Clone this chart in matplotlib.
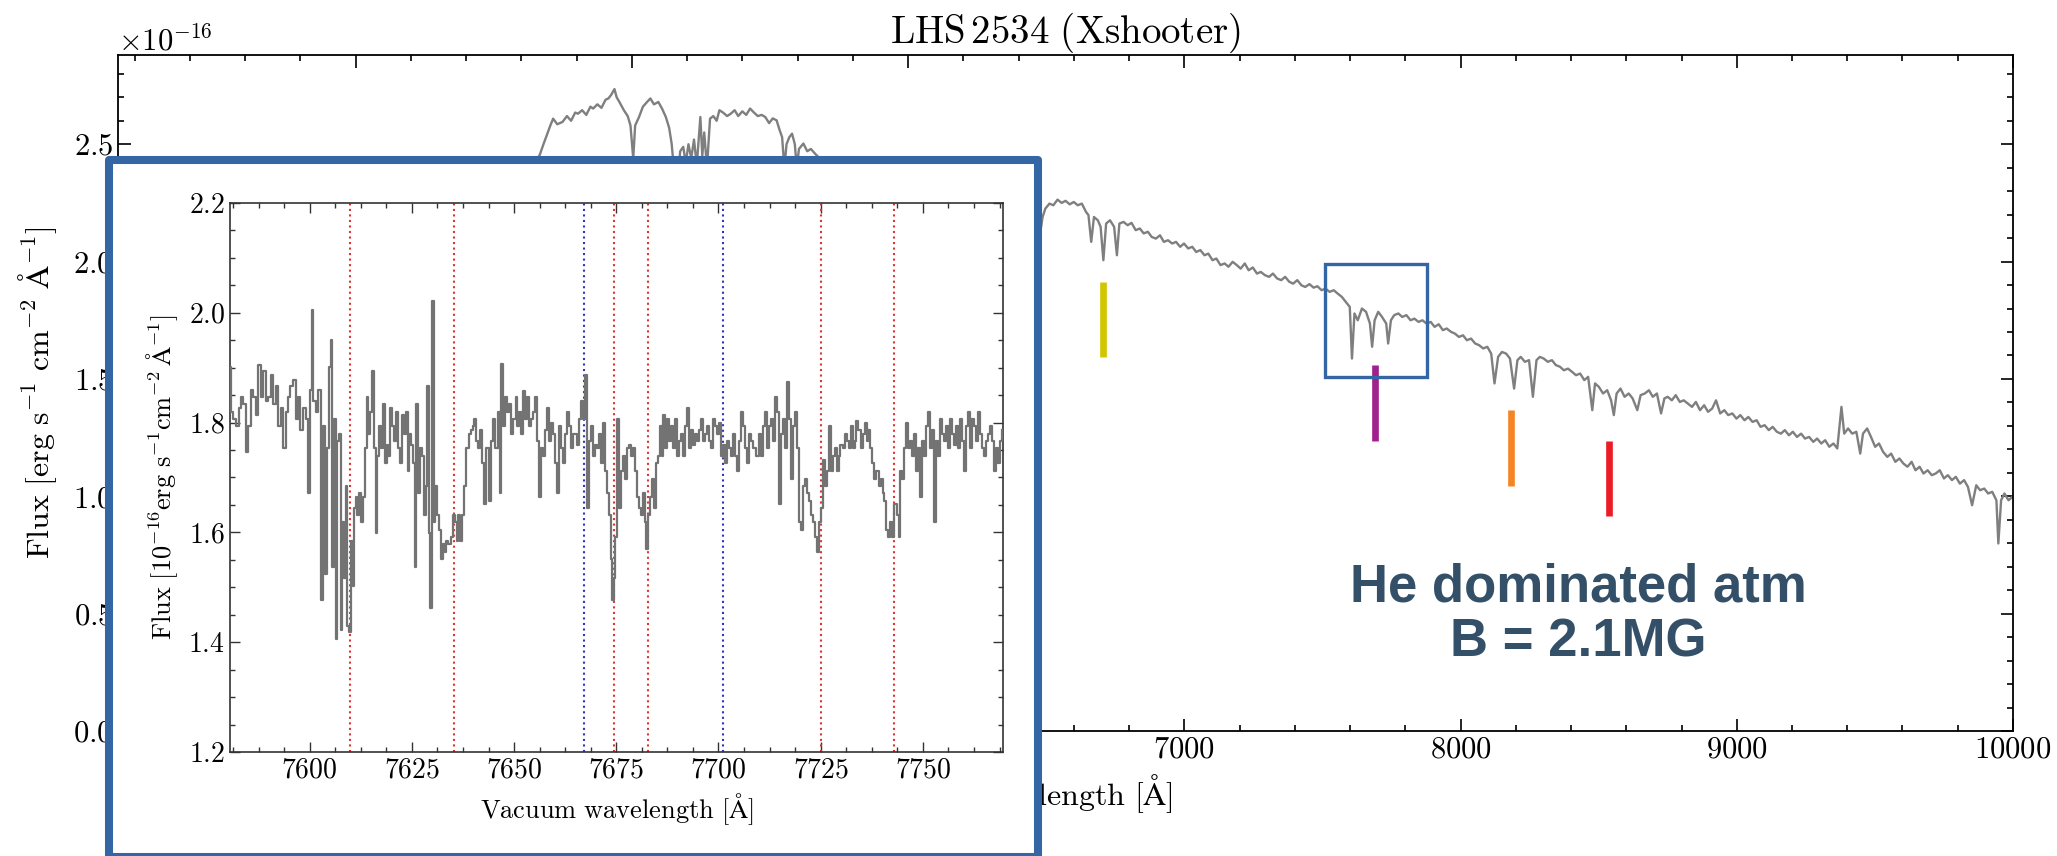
import matplotlib
matplotlib.use('Agg')
import matplotlib.pyplot as plt
from matplotlib.patches import Rectangle
from matplotlib.ticker import MultipleLocator

plt.rcParams['font.family'] = 'serif'
plt.rcParams['font.serif'] = ['cmr10']
plt.rcParams['mathtext.fontset'] = 'cm'
plt.rcParams['axes.formatter.use_mathtext'] = True

# ---- full spectrum (flux in 1e-16 erg/s/cm2/A) ----
wave = [3140, 3250, 3400, 3550, 3700, 3850, 3934, 3968, 4050, 4200, 4350, 4500, 4600, 4640,
        4666, 4680, 4694, 4705, 4715, 4730, 4749, 4765, 4780, 4795, 4805, 4820, 4835, 4850,
        4860, 4875, 4890, 4905, 4915, 4925, 4937, 4945, 4955, 4971, 4985, 4995, 5005, 5012,
        5026, 5040, 5055, 5067, 5080, 5096, 5110, 5123, 5135, 5144, 5152, 5160, 5168, 5175,
        5186, 5195, 5205, 5215, 5225, 5235, 5248, 5255, 5262, 5272, 5283, 5295, 5307, 5317,
        5330, 5345, 5358, 5372, 5385, 5400, 5414, 5428, 5442, 5456, 5470, 5483, 5497, 5510,
        5524, 5535, 5544, 5552, 5560, 5570, 5580, 5590, 5597, 5605, 5621, 5635, 5648, 5663,
        5680, 5695, 5720, 5780, 5850, 5890, 5900, 5950, 6050, 6150, 6250, 6350, 6420, 6460,
        6478, 6487, 6497, 6512, 6526, 6541, 6556, 6570, 6585, 6600, 6614, 6629, 6644, 6653,
        6663, 6673, 6687, 6697, 6707, 6717, 6731, 6746, 6756, 6765, 6780, 6795, 6809, 6824,
        6839, 6853, 6868, 6882, 6897, 6912, 6926, 6941, 6956, 6970, 6985, 6999, 7014, 7029,
        7043, 7058, 7073, 7087, 7102, 7116, 7131, 7146, 7160, 7175, 7190, 7204, 7219, 7233,
        7248, 7263, 7277, 7292, 7307, 7321, 7336, 7351, 7365, 7380, 7394, 7409, 7424, 7438,
        7453, 7468, 7482, 7497, 7511, 7526, 7541, 7555, 7570, 7585, 7599, 7607, 7616, 7628,
        7643, 7658, 7672, 7680, 7689, 7702, 7716, 7731, 7738, 7748, 7760, 7775, 7789, 7804,
        7819, 7833, 7848, 7862, 7877, 7892, 7906, 7921, 7936, 7950, 7965, 7980, 7994, 8009,
        8023, 8038, 8053, 8067, 8082, 8097, 8111, 8123, 8136, 8150, 8165, 8179, 8194, 8206,
        8218, 8233, 8248, 8262, 8275, 8287, 8301, 8316, 8331, 8345, 8360, 8374, 8389, 8404,
        8418, 8433, 8448, 8462, 8477, 8487, 8501, 8516, 8531, 8545, 8555, 8565, 8579, 8594,
        8609, 8623, 8640, 8652, 8667, 8682, 8696, 8711, 8726, 8738, 8750, 8765, 8779, 8794,
        8808, 8823, 8838, 8852, 8867, 8882, 8896, 8911, 8925, 8940, 8955, 8969, 8984, 8999,
        9013, 9028, 9042, 9057, 9072, 9086, 9101, 9116, 9130, 9145, 9160, 9174, 9189, 9203,
        9218, 9233, 9247, 9262, 9277, 9291, 9306, 9320, 9335, 9350, 9364, 9379, 9389, 9403,
        9418, 9433, 9447, 9457, 9472, 9486, 9501, 9515, 9530, 9545, 9559, 9574, 9589, 9603,
        9618, 9633, 9647, 9662, 9676, 9691, 9706, 9720, 9735, 9750, 9764, 9779, 9793, 9808,
        9823, 9837, 9852, 9867, 9881, 9896, 9910, 9925, 9940, 9947, 9957, 9969, 9984, 9998]
flux = [0.35, 0.55, 0.80, 1.00, 1.20, 1.30, 0.90, 0.95, 1.55, 1.85, 2.05, 2.22, 2.36, 2.41,
        2.453, 2.50, 2.545, 2.58, 2.609, 2.585, 2.595, 2.62, 2.60, 2.635, 2.63, 2.645, 2.625, 2.66,
        2.652, 2.67, 2.655, 2.69, 2.695, 2.71, 2.735, 2.70, 2.68, 2.645, 2.62, 2.58, 2.44, 2.58,
        2.616, 2.66, 2.68, 2.695, 2.67, 2.68, 2.65, 2.616, 2.57, 2.503, 2.40, 2.44, 2.38, 2.47,
        2.489, 2.42, 2.50, 2.44, 2.52, 2.41, 2.616, 2.45, 2.55, 2.40, 2.609, 2.62, 2.60, 2.645,
        2.635, 2.62, 2.63, 2.645, 2.62, 2.64, 2.625, 2.652, 2.635, 2.62, 2.625, 2.616, 2.59, 2.61,
        2.602, 2.56, 2.53, 2.40, 2.50, 2.53, 2.545, 2.50, 2.40, 2.48, 2.503, 2.47, 2.48, 2.46,
        2.44, 2.43, 2.38, 2.36, 2.25, 1.40, 1.50, 2.20, 2.30, 2.32, 2.30, 2.28, 2.26, 2.22,
        2.120, 2.190, 2.226, 2.247, 2.240, 2.264, 2.250, 2.259, 2.244, 2.254, 2.240, 2.247, 2.212, 2.198,
        2.084, 2.190, 2.176, 2.148, 2.006, 2.162, 2.176, 2.148, 2.027, 2.162, 2.169, 2.155, 2.165, 2.134,
        2.141, 2.120, 2.127, 2.105, 2.098, 2.112, 2.084, 2.091, 2.077, 2.084, 2.063, 2.077, 2.056, 2.063,
        2.041, 2.049, 2.027, 2.034, 2.006, 2.013, 1.985, 1.992, 1.978, 1.999, 1.985, 1.970, 1.992, 1.963,
        1.975, 1.949, 1.956, 1.942, 1.935, 1.949, 1.928, 1.921, 1.935, 1.914, 1.906, 1.921, 1.899, 1.892,
        1.904, 1.889, 1.895, 1.878, 1.885, 1.871, 1.878, 1.864, 1.850, 1.828, 1.807, 1.587, 1.779, 1.750,
        1.800, 1.786, 1.736, 1.637, 1.750, 1.786, 1.764, 1.736, 1.651, 1.750, 1.772, 1.779, 1.764, 1.772,
        1.750, 1.757, 1.743, 1.750, 1.736, 1.743, 1.722, 1.733, 1.708, 1.715, 1.701, 1.693, 1.679, 1.686,
        1.665, 1.672, 1.651, 1.644, 1.630, 1.637, 1.608, 1.481, 1.594, 1.615, 1.608, 1.587, 1.459, 1.580,
        1.594, 1.573, 1.580, 1.424, 1.580, 1.594, 1.587, 1.573, 1.580, 1.559, 1.552, 1.537, 1.544, 1.530,
        1.516, 1.523, 1.495, 1.509, 1.367, 1.481, 1.466, 1.438, 1.452, 1.409, 1.346, 1.438, 1.459, 1.424,
        1.438, 1.417, 1.367, 1.431, 1.438, 1.452, 1.424, 1.438, 1.353, 1.417, 1.424, 1.409, 1.431, 1.402,
        1.409, 1.395, 1.381, 1.402, 1.367, 1.388, 1.360, 1.374, 1.409, 1.353, 1.367, 1.346, 1.353, 1.331,
        1.346, 1.324, 1.338, 1.317, 1.324, 1.296, 1.303, 1.282, 1.296, 1.275, 1.267, 1.282, 1.260, 1.275,
        1.253, 1.267, 1.246, 1.253, 1.232, 1.246, 1.225, 1.239, 1.211, 1.225, 1.204, 1.381, 1.267, 1.289,
        1.267, 1.275, 1.182, 1.267, 1.289, 1.253, 1.211, 1.225, 1.189, 1.168, 1.182, 1.147, 1.161, 1.140,
        1.126, 1.147, 1.111, 1.126, 1.097, 1.111, 1.090, 1.097, 1.111, 1.076, 1.090, 1.069, 1.083, 1.054,
        1.069, 1.040, 0.962, 1.047, 1.026, 1.033, 1.012, 1.019, 0.983, 0.799, 0.983, 1.012, 0.983, 0.998]

# ---- zoom on the K I region ----
z_wave = [7580.4, 7581.0, 7581.6, 7582.3, 7582.9, 7583.4, 7584.1, 7584.7, 7585.3, 7585.9, 7586.5, 7587.2,
          7587.7, 7588.3, 7588.9, 7589.6, 7590.2, 7590.7, 7591.4, 7592.0, 7592.6, 7593.2, 7593.8, 7594.5,
          7595.0, 7595.6, 7596.2, 7596.9, 7597.5, 7598.0, 7598.7, 7599.3, 7599.8, 7600.3, 7600.6, 7601.1,
          7601.8, 7602.4, 7602.9, 7603.4, 7603.9, 7604.5, 7605.0, 7605.3, 7605.8, 7606.2, 7606.6, 7607.0,
          7607.4, 7607.8, 7608.2, 7608.6, 7609.0, 7609.4, 7609.9, 7610.3, 7610.7, 7611.1, 7611.5, 7611.8,
          7612.3, 7612.9, 7613.3, 7613.8, 7614.1, 7614.5, 7614.9, 7615.5, 7615.9, 7616.3, 7616.7, 7617.2,
          7617.7, 7618.1, 7618.6, 7619.0, 7619.4, 7619.9, 7620.4, 7620.9, 7621.4, 7621.9, 7622.4, 7622.9,
          7623.3, 7623.7, 7624.2, 7624.6, 7625.0, 7625.4, 7625.9, 7626.3, 7626.7, 7627.2, 7627.7, 7628.2,
          7628.5, 7629.0, 7629.3, 7629.8, 7630.2, 7630.5, 7630.8, 7631.3, 7631.8, 7632.3, 7632.8, 7633.2,
          7633.7, 7634.2, 7634.7, 7635.2, 7635.7, 7636.2, 7636.6, 7637.1, 7637.6, 7638.1, 7638.6, 7639.1,
          7639.6, 7640.1, 7640.5, 7641.0, 7641.5, 7642.0, 7642.5, 7643.0, 7643.5,
          7644.1, 7644.7, 7645.2, 7645.7, 7646.2, 7646.7, 7647.1, 7647.6, 7648.1, 7648.6, 7649.1, 7649.6,
          7650.1, 7650.6, 7651.0, 7651.5, 7652.0, 7652.5, 7653.0, 7653.5, 7654.0, 7654.5, 7654.9, 7655.4,
          7655.9, 7656.4, 7656.9, 7657.4, 7657.9, 7658.3, 7658.8, 7659.3, 7659.8, 7660.3, 7660.8, 7661.3,
          7661.8, 7662.2, 7662.7, 7663.2, 7663.7, 7664.2, 7664.7, 7665.2, 7665.6, 7666.1, 7666.6, 7667.1,
          7667.6, 7668.1, 7668.6, 7669.1, 7669.5, 7670.0, 7670.5, 7671.0, 7671.5, 7672.0, 7672.5, 7673.0,
          7673.4, 7673.9, 7674.2, 7674.6, 7674.9, 7675.4, 7675.9, 7676.4, 7676.9, 7677.3, 7677.8, 7678.3,
          7678.8, 7679.3, 7679.8, 7680.3, 7680.7, 7681.2, 7681.7, 7682.2, 7682.5, 7683.0, 7683.5, 7684.0,
          7684.5, 7685.0, 7685.4, 7685.9, 7686.4, 7686.7, 7687.2, 7687.7, 7688.2, 7688.7, 7689.2, 7689.7,
          7690.1, 7690.6, 7691.1, 7691.6, 7692.1, 7692.6, 7693.1, 7693.6, 7694.0, 7694.5, 7695.0, 7695.5,
          7696.0, 7696.5, 7697.0, 7697.5, 7697.9, 7698.4, 7698.9, 7699.4, 7699.9, 7700.4, 7700.9, 7701.3,
          7701.8, 7702.3, 7702.8, 7703.3, 7703.8, 7704.3, 7704.8, 7705.2, 7705.7, 7706.2, 7706.7, 7707.2,
          7707.7, 7708.2, 7708.7,
          7709.7, 7710.2, 7710.7, 7711.1, 7711.6, 7712.1, 7712.6, 7713.1, 7713.6, 7714.1, 7714.6, 7715.0,
          7715.5, 7716.0, 7716.5, 7717.0, 7717.5, 7718.0, 7718.5, 7718.9, 7719.4, 7719.9, 7720.4, 7720.9,
          7721.4, 7721.9, 7722.3, 7722.8, 7723.3, 7723.8, 7724.3, 7724.8, 7725.3, 7725.8, 7726.2, 7726.7,
          7727.2, 7727.7, 7728.2, 7728.7, 7729.2, 7729.6, 7730.1, 7730.6, 7731.1, 7731.6, 7732.1, 7732.6,
          7733.1, 7733.5, 7734.0, 7734.5, 7735.0, 7735.5, 7736.0, 7736.5, 7736.9, 7737.4, 7737.9, 7738.4,
          7738.9, 7739.4, 7739.9, 7740.4, 7740.8, 7741.3, 7741.8, 7742.3, 7742.8, 7743.3, 7743.8, 7744.3,
          7744.7, 7745.2, 7745.7, 7746.2, 7746.7, 7747.2, 7747.7, 7748.1, 7748.6, 7749.1, 7749.6, 7750.1,
          7750.6, 7751.1, 7751.6, 7752.0, 7752.5, 7753.0, 7753.5, 7754.0, 7754.5, 7755.0, 7755.5, 7755.9,
          7756.4, 7756.9, 7757.4, 7757.9, 7758.4, 7758.9, 7759.3, 7759.8, 7760.3, 7760.8, 7761.3, 7761.8,
          7762.3, 7762.8, 7763.2, 7763.7, 7764.2, 7764.7, 7765.2, 7765.7, 7766.2, 7766.6, 7767.1, 7767.6,
          7768.1, 7768.6, 7769.1, 7769.4]
z_flux = [1.901, 1.820, 1.806, 1.793, 1.827, 1.847, 1.833, 1.746, 1.793, 1.860, 1.847, 1.813,
          1.904, 1.847, 1.894, 1.840, 1.847, 1.887, 1.833, 1.867, 1.793, 1.827, 1.753, 1.820,
          1.847, 1.867, 1.877, 1.806, 1.847, 1.786, 1.827, 1.806, 1.672, 1.860, 2.005, 1.840,
          1.820, 1.860, 1.476, 1.793, 1.524, 1.753, 1.901, 1.951, 1.537, 1.806, 1.406, 1.766,
          1.780, 1.423, 1.618, 1.517, 1.685, 1.429, 1.419, 1.584, 1.503, 1.645, 1.665, 1.631,
          1.672, 1.618, 1.665, 1.753, 1.847, 1.780, 1.820, 1.894, 1.753, 1.598, 1.739, 1.793,
          1.753, 1.833, 1.726, 1.759, 1.739, 1.827, 1.793, 1.766, 1.820, 1.753, 1.726, 1.813,
          1.780, 1.820, 1.712, 1.780, 1.759, 1.726, 1.537, 1.833, 1.672, 1.753, 1.739, 1.631,
          1.685, 1.867, 1.598, 1.463, 2.022, 1.618, 1.685, 1.631, 1.604, 1.551, 1.578, 1.564,
          1.584, 1.578, 1.591, 1.631, 1.618, 1.584, 1.631, 1.584, 1.631, 1.685, 1.753, 1.780,
          1.786, 1.793, 1.806, 1.766, 1.753, 1.786, 1.726, 1.652, 1.753,
          1.658, 1.766, 1.806, 1.753, 1.820, 1.672, 1.907, 1.793, 1.847, 1.820, 1.833, 1.780,
          1.806, 1.847, 1.793, 1.820, 1.780, 1.857, 1.806, 1.847, 1.793, 1.806, 1.820, 1.847,
          1.766, 1.665, 1.753, 1.739, 1.786, 1.827, 1.766, 1.799, 1.780, 1.726, 1.672, 1.793,
          1.753, 1.726, 1.780, 1.820, 1.793, 1.753, 1.780, 1.780, 1.759, 1.806, 1.840, 1.806,
          1.887, 1.645, 1.766, 1.793, 1.739, 1.759, 1.753, 1.780, 1.726, 1.799, 1.712, 1.672,
          1.631, 1.551, 1.476, 1.517, 1.591, 1.806, 1.645, 1.712, 1.739, 1.698, 1.753, 1.759,
          1.739, 1.753, 1.712, 1.665, 1.645, 1.631, 1.672, 1.618, 1.570, 1.631, 1.665, 1.698,
          1.645, 1.726, 1.739, 1.793, 1.739, 1.813, 1.753, 1.806, 1.766, 1.793, 1.753, 1.806,
          1.739, 1.766, 1.780, 1.739, 1.793, 1.827, 1.753, 1.786, 1.759, 1.780, 1.766, 1.786,
          1.806, 1.766, 1.780, 1.793, 1.766, 1.753, 1.806, 1.793, 1.780, 1.799, 1.739, 1.759,
          1.726, 1.766, 1.753, 1.739, 1.780, 1.739, 1.712, 1.766, 1.820, 1.793, 1.753, 1.726,
          1.780, 1.766, 1.753,
          1.739, 1.780, 1.739, 1.793, 1.820, 1.753, 1.793, 1.806, 1.766, 1.847, 1.820, 1.651,
          1.780, 1.806, 1.753, 1.874, 1.806, 1.698, 1.793, 1.820, 1.753, 1.618, 1.604, 1.685,
          1.698, 1.672, 1.658, 1.631, 1.618, 1.591, 1.564, 1.618, 1.645, 1.732, 1.685, 1.712,
          1.793, 1.712, 1.739, 1.753, 1.712, 1.739, 1.759, 1.753, 1.780, 1.766, 1.753, 1.793,
          1.753, 1.766, 1.803, 1.786, 1.753, 1.780, 1.799, 1.766, 1.786, 1.753, 1.726, 1.698,
          1.712, 1.685, 1.698, 1.672, 1.658, 1.604, 1.591, 1.618, 1.591, 1.651, 1.631, 1.591,
          1.712, 1.698, 1.753, 1.799, 1.753, 1.766, 1.739, 1.780, 1.712, 1.753, 1.665, 1.766,
          1.739, 1.793, 1.820, 1.753, 1.786, 1.618, 1.766, 1.739, 1.806, 1.780, 1.766, 1.793,
          1.753, 1.806, 1.780, 1.759, 1.793, 1.753, 1.806, 1.766, 1.712, 1.793, 1.820, 1.753,
          1.806, 1.793, 1.766, 1.820, 1.780, 1.753, 1.739, 1.766, 1.780, 1.793, 1.766, 1.712,
          1.753, 1.726, 1.766, 1.786]

# line positions in the zoom (red: split components, blue: K I rest wavelengths)
red_lines = [7609.8, 7635.4, 7674.4, 7682.8, 7725.2, 7743.0]
blue_lines = [7667.0, 7701.1]

# coloured markers on the full spectrum: wavelength, lower, upper flux
mark_wave = [6707, 7692, 8184, 8538]
mark_lo = [1.593, 1.236, 1.045, 0.916]
mark_hi = [1.912, 1.559, 1.367, 1.236]
mark_cols = ['#d2c600', '#a0208e', '#f58524', '#ec1c27']

# zoom box on the full spectrum
box_wave = [7508, 7877]
box_flux = [1.508, 1.989]

blue = '#3465a5'
scale = 1e-16

fig = plt.figure(figsize=(20.57, 8.56), dpi=100)
ax = fig.add_axes([0.0574, 0.146, 0.9212, 0.7897])
ax.plot(wave, [f * scale for f in flux], color='#7f7f7f', lw=1.7)
ax.vlines(mark_wave, [v * scale for v in mark_lo], [v * scale for v in mark_hi],
          colors=mark_cols, lw=4.8, zorder=3)
ax.add_patch(Rectangle((box_wave[0], box_flux[0] * scale), box_wave[1] - box_wave[0],
                       (box_flux[1] - box_flux[0]) * scale, fill=False, ec=blue, lw=2.4, zorder=4))
ax.set_xlim(3140, 10000)
ax.set_ylim(0, 2.88e-16)
ax.xaxis.set_major_locator(MultipleLocator(1000))
ax.xaxis.set_minor_locator(MultipleLocator(200))
ax.yaxis.set_major_locator(MultipleLocator(0.5e-16))
ax.yaxis.set_minor_locator(MultipleLocator(0.1e-16))
ax.tick_params(which='both', direction='in', top=True, right=True, labelsize=22, width=1.2)
ax.tick_params(which='major', length=9)
ax.tick_params(which='minor', length=4.5)
ax.yaxis.get_offset_text().set_fontsize(22)
for s in ax.spines.values():
    s.set_linewidth(1.3)
ax.set_title(r'$\mathrm{LHS\,2534\ (Xshooter)}$', fontsize=28, pad=8)
ax.set_xlabel(r'$\mathrm{Wavelength\ [\AA]}$', fontsize=23, labelpad=6)
ax.set_ylabel(r'$\mathrm{Flux\ [erg\ s^{-1}\ cm^{-2}\ \AA^{-1}]}$', fontsize=23, labelpad=10)

# white panel with a thick blue frame holding the zoom
fig.add_artist(Rectangle((0.0530, -0.0012), 0.4514, 0.8143, transform=fig.transFigure,
                         facecolor='white', edgecolor=blue, lw=5.8, joinstyle='round', zorder=5))

ins = fig.add_axes([0.1118, 0.1215, 0.3756, 0.6414])
ins.set_zorder(10)
ins.plot(z_wave, z_flux, color='#737373', lw=1.6, drawstyle='steps-mid', zorder=3)
for w in red_lines:
    ins.axvline(w, color='#dd3333', ls=':', lw=1.5, zorder=2)
for w in blue_lines:
    ins.axvline(w, color='#3333bb', ls=':', lw=1.5, zorder=2)
ins.set_xlim(7580.5, 7769.5)
ins.set_ylim(1.2, 2.2)
ins.xaxis.set_major_locator(MultipleLocator(25))
ins.xaxis.set_minor_locator(MultipleLocator(6.25))
ins.yaxis.set_major_locator(MultipleLocator(0.2))
ins.yaxis.set_minor_locator(MultipleLocator(0.05))
ins.tick_params(which='both', direction='in', top=True, right=True, labelsize=20,
                width=1.0, color='#333333')
ins.tick_params(which='major', length=7)
ins.tick_params(which='minor', length=3.5)
for s in ins.spines.values():
    s.set_linewidth(1.2)
    s.set_color('#333333')
ins.set_xlabel(r'$\mathrm{Vacuum\ wavelength\ [\AA]}$', fontsize=19, labelpad=6)
ins.set_ylabel(r'$\mathrm{Flux\ [10^{-16}erg\ s^{-1}cm^{-2}\,\AA^{-1}]}$', fontsize=19, labelpad=6)

fig.text(0.7671, 0.2815, 'He dominated atm\nB = 2.1MG', ha='center', va='center',
         fontsize=38, fontweight='bold', family='Liberation Sans', color='#345069',
         linespacing=1.12, zorder=6)

fig.savefig('out.png', dpi=100)
